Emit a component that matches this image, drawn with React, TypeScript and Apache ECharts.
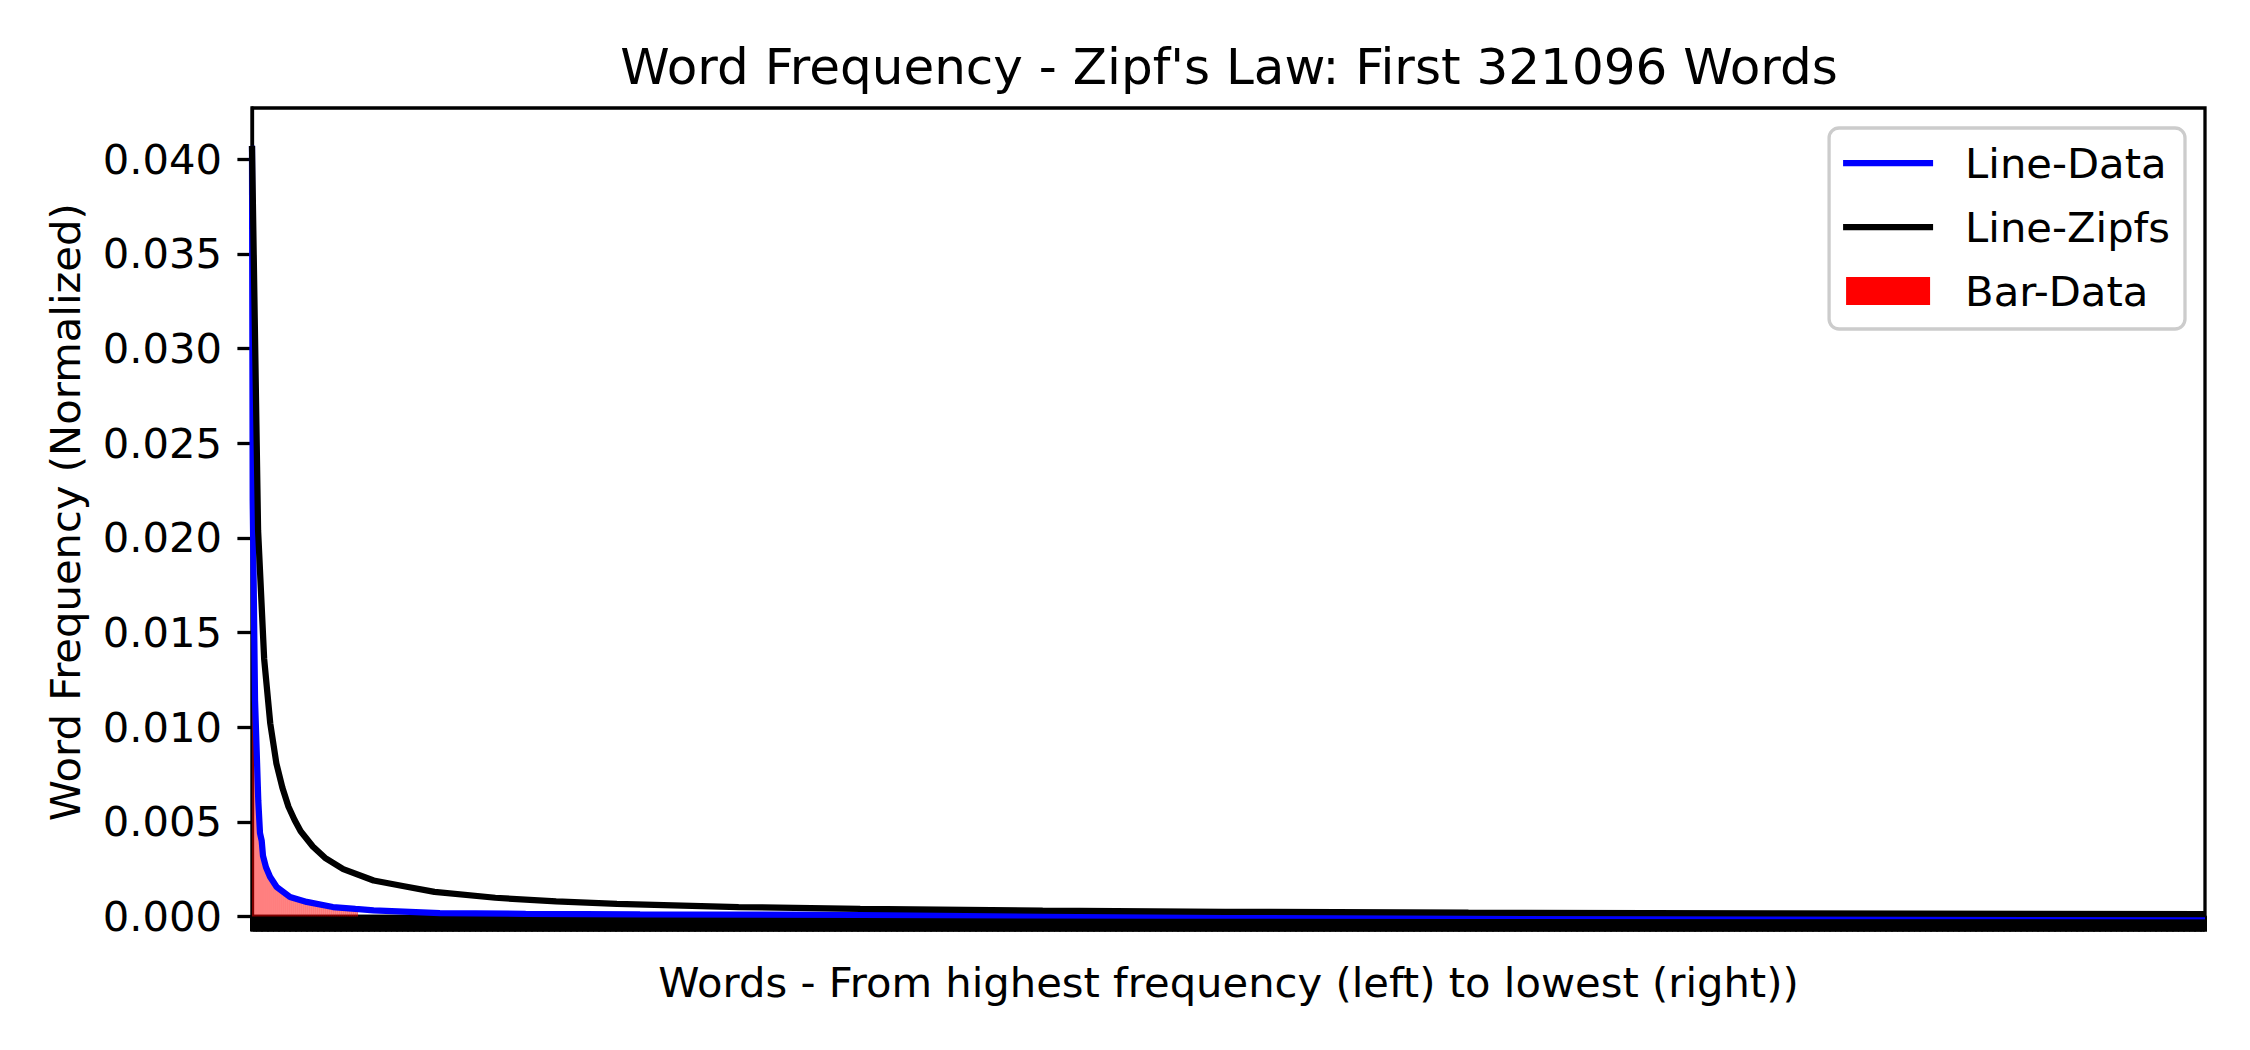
import React, { useEffect, useRef } from 'react';
import * as echarts from 'echarts';

const TITLE = "Word Frequency - Zipf's Law: First 321096 Words";
const X_NAME = 'Words - From highest frequency (left) to lowest (right))';
const Y_NAME = 'Word Frequency (Normalized)';
const TOTAL_WORDS = 321096;
const FONT = 'DejaVu Sans';

const yTicks = [0, 0.005, 0.01, 0.015, 0.02, 0.025, 0.03, 0.035, 0.04];

const dataRanks = [0, 115, 500, 1036, 1315, 1595, 1808, 2300, 2960, 4060, 6250, 9000, 13300, 17000, 20000, 30900, 45000, 63800, 100000, 150000, 200000, 260000, 321096];
const dataValues = [0.0407, 0.022, 0.0114, 0.0061, 0.0044, 0.004, 0.0032, 0.0026, 0.0021, 0.00156, 0.00103, 0.00077, 0.0005, 0.0004, 0.00032, 0.00018, 0.00014, 0.00011, 0.00008, 0.00005, 0.00003, 0.00002, 0.00001];

// Line-Zipfs (expected frequency)
const zipfRanks = [0, 1000, 2000, 3000, 4000, 5000, 6000, 7000, 8000, 10000, 12000, 15000, 20000, 25000, 30000, 40000, 50000, 60000, 80000, 100000, 130000, 160000, 200000, 250000, 321096];
const zipfValues = [0.0407, 0.0204, 0.0136, 0.0102, 0.0081, 0.0068, 0.0058, 0.0051, 0.0045, 0.0037, 0.0031, 0.0025, 0.0019, 0.0016, 0.0013, 0.00099, 0.0008, 0.00067, 0.0005, 0.0004, 0.00031, 0.00025, 0.0002, 0.00016, 0.000127];

// Bar-Data: the visible (rendered) bars near the left edge
const barRanks = [164, 493, 822, 1151, 1480, 1809, 2138, 2467, 2796, 3125, 3454, 3783, 4112, 4441, 4770, 5099, 5428, 5757, 6086, 6415, 6744, 7073, 7402, 7731, 8060, 8389, 8718, 9047, 9376, 9705, 10034, 10363, 10692, 11021, 11350, 11679, 12008, 12337, 12666, 12995, 13324, 13653, 13982, 14311, 14640, 14969, 15298, 15627, 15956, 16285, 16614, 16943, 17272];
const barValues = [0.02, 0.0115, 0.0082, 0.0054, 0.0042, 0.0032, 0.0028, 0.0025, 0.0022, 0.002, 0.0019, 0.0017, 0.00155, 0.00147, 0.00139, 0.00131, 0.00123, 0.00115, 0.00107, 0.00101, 0.00098, 0.00094, 0.00091, 0.00088, 0.00085, 0.00082, 0.00079, 0.00077, 0.00074, 0.00072, 0.00069, 0.00067, 0.00065, 0.00063, 0.00061, 0.00059, 0.00057, 0.00056, 0.00054, 0.00052, 0.0005, 0.00049, 0.00048, 0.00047, 0.00046, 0.00045, 0.00044, 0.00043, 0.00042, 0.00042, 0.00041, 0.0004, 0.00039];

const LINE_ICON = 'path://M0,0H90V6.25H0Z';
const BAR_ICON = 'path://M0,0H84V28H0Z';

export default function App() {
  const ref = useRef<HTMLDivElement>(null);
  useEffect(() => {
    document.body.style.margin = '0';
    const chart = echarts.init(ref.current!, null, { renderer: 'svg' });
    chart.setOption({
      animation: false,
      backgroundColor: '#ffffff',
      title: {
        text: TITLE,
        left: 1224,
        top: 37,
        textAlign: 'center',
        textStyle: { fontSize: 50, fontWeight: 'normal', fontFamily: FONT, color: '#000' },
      },
      grid: {
        left: 252, right: 45, top: 108, bottom: 133.5,
        show: true, borderColor: '#000', borderWidth: 3.3, backgroundColor: 'transparent',
      },
      legend: {
        orient: 'vertical',
        right: 65,
        top: 128,
        padding: [14, 15, 17, 14],
        itemWidth: 90,
        itemHeight: 28,
        itemGap: 22,
        backgroundColor: '#fff',
        borderColor: '#cccccc',
        borderWidth: 3.3,
        borderRadius: 10,
        textStyle: { fontSize: 41.7, fontFamily: FONT, color: '#000', lineHeight: 42, padding: [0, 0, 0, 27] },
        data: [
          { name: 'Line-Data', icon: LINE_ICON, itemStyle: { color: '#0000ff', borderWidth: 0 } },
          { name: 'Line-Zipfs', icon: LINE_ICON, itemStyle: { color: '#000000', borderWidth: 0 } },
          { name: 'Bar-Data', icon: BAR_ICON, itemStyle: { color: '#ff0000', borderWidth: 0 } },
        ],
      },
      xAxis: {
        type: 'value',
        min: 0,
        max: TOTAL_WORDS,
        interval: 200,
        axisLine: { show: true, lineStyle: { color: '#000', width: 3.3 } },
        axisTick: { show: true, length: 15, lineStyle: { color: '#000', width: 4 } },
        axisLabel: { show: false },
        splitLine: { show: false },
        name: X_NAME,
        nameLocation: 'middle',
        nameGap: 45,
        nameTextStyle: { fontSize: 41.7, fontFamily: FONT, color: '#000' },
      },
      yAxis: {
        type: 'value',
        min: 0,
        max: 0.0427,
        axisLine: { show: true, lineStyle: { color: '#000', width: 3.3 } },
        axisTick: { show: true, length: 14.6, lineStyle: { color: '#000', width: 3.3 }, customValues: yTicks },
        axisLabel: {
          customValues: yTicks,
          formatter: (v: number) => v.toFixed(3),
          fontSize: 41.7, fontFamily: FONT, color: '#000', margin: 30,
        },
        splitLine: { show: false },
        name: Y_NAME,
        nameLocation: 'middle',
        nameGap: 166,
        nameTextStyle: { fontSize: 41.7, fontFamily: FONT, color: '#000' },
      },
      series: [
        {
          type: 'bar',
          name: 'Bar-Data',
          data: barRanks.map((r, i) => [r, barValues[i]]),
          barWidth: 1,
          itemStyle: { color: '#ff0000' },
          z: 1,
        },
        {
          type: 'line',
          name: 'Line-Data',
          data: dataRanks.map((r, i) => [r, dataValues[i]]),
          symbol: 'none',
          showSymbol: false,
          lineStyle: { color: '#0000ff', width: 6.25 },
          itemStyle: { color: '#0000ff' },
          z: 2,
        },
        {
          type: 'line',
          name: 'Line-Zipfs',
          data: zipfRanks.map((r, i) => [r, zipfValues[i]]),
          symbol: 'none',
          showSymbol: false,
          lineStyle: { color: '#000000', width: 6.25 },
          itemStyle: { color: '#000000' },
          z: 3,
        },
      ],
    });
    return () => chart.dispose();
  }, []);
  return <div ref={ref} style={{ width: 2250, height: 1050 }} />;
}
